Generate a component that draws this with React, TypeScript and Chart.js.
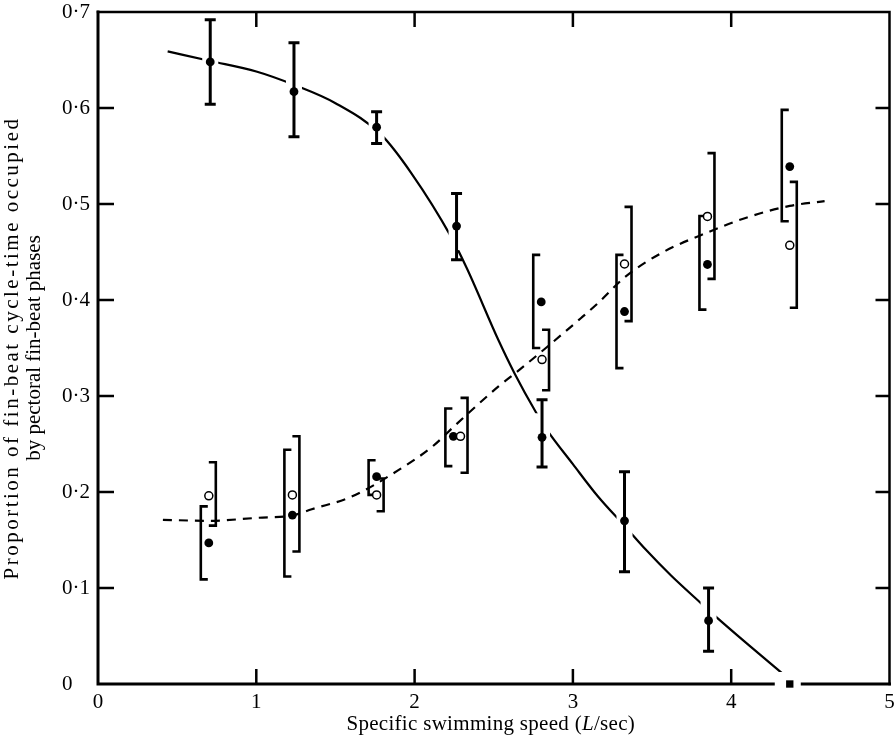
import React, { useEffect, useRef } from 'react';
import { Chart, registerables } from 'chart.js';

Chart.register(...registerables);

// ---------- axis ticks ----------
const xTicks = [0, 1, 2, 3, 4, 5];
const xTickLabels = ['0', '1', '2', '3', '4', '5'];
const yTicks = [0, 0.1, 0.2, 0.3, 0.4, 0.5, 0.6, 0.7];
const yTickLabels = ['0', '0·1', '0·2', '0·3', '0·4', '0·5', '0·6', '0·7'];

// ---------- descending series (solid curve, I-beam error bars) ----------
const descX = [0.709, 1.238, 1.76, 2.265, 2.805, 3.326, 3.857];
const descY = [0.648, 0.617, 0.58, 0.477, 0.257, 0.17, 0.066];
const descLow = [0.604, 0.57, 0.563, 0.442, 0.226, 0.117, 0.034];
const descHigh = [0.692, 0.668, 0.596, 0.511, 0.296, 0.221, 0.1];
const endX = [4.37];
const endY = [0];

// ---------- rising series, filled circles ("[" brackets) ----------
const riseFillX = [0.7, 1.228, 1.76, 2.245, 2.8, 3.326, 3.85, 4.37];
const riseFillY = [0.147, 0.176, 0.216, 0.258, 0.398, 0.388, 0.437, 0.539];
const riseFillLow = [0.109, 0.112, 0.197, 0.227, 0.35, 0.329, 0.39, 0.482];
const riseFillHigh = [0.185, 0.244, 0.233, 0.287, 0.447, 0.447, 0.4875, 0.598];

// ---------- rising series, open circles ("]" brackets) ----------
const riseOpenX = [0.7, 1.228, 1.76, 2.29, 2.805, 3.326, 3.85, 4.37];
const riseOpenY = [0.196, 0.197, 0.197, 0.258, 0.338, 0.4375, 0.487, 0.457];
const riseOpenLow = [0.165, 0.138, 0.18, 0.22, 0.306, 0.378, 0.422, 0.392];
const riseOpenHigh = [0.231, 0.258, 0.214, 0.298, 0.369, 0.497, 0.553, 0.523];

// ---------- fitted curves ----------
const solidCurveX = [0.44, 0.71, 1.0, 1.24, 1.5, 1.79, 1.98, 2.23, 2.33, 2.53, 2.63, 2.77, 2.83, 3.0, 3.16, 3.33, 3.46, 3.62, 3.81, 3.89, 4.1, 4.33];
const solidCurveY = [0.659, 0.649, 0.638, 0.624, 0.605, 0.572, 0.532, 0.466, 0.433, 0.358, 0.324, 0.282, 0.266, 0.229, 0.195, 0.164, 0.14, 0.113, 0.084, 0.072, 0.042, 0.01];
const dashCurveX = [0.41, 0.7, 1.0, 1.24, 1.35, 1.6, 1.9, 2.11, 2.26, 2.53, 2.63, 2.8, 3.05, 3.16, 3.33, 3.56, 3.86, 4.1, 4.37, 4.59];
const dashCurveY = [0.171, 0.17, 0.173, 0.176, 0.182, 0.195, 0.223, 0.247, 0.27, 0.31, 0.323, 0.346, 0.381, 0.397, 0.424, 0.449, 0.471, 0.486, 0.498, 0.503];

const xTitleParts: [string, boolean][] = [['Specific swimming speed (', false], ['L', true], ['/sec)', false]];
const yTitleLines = ['Proportion of fin-beat cycle-time occupied', 'by pectoral fin-beat phases'];

const FONT = '"Liberation Serif", "Times New Roman", serif';

const zip = (xs: number[], ys: number[]) => xs.map((x, i) => ({ x, y: ys[i] }));

const figurePlugin = {
  id: 'figure',
  beforeDatasetsDraw(chart: any) {
    const { ctx, chartArea } = chart;
    const { left, right, top, bottom } = chartArea;
    const xs = chart.scales.x;
    const ys = chart.scales.y;
    ctx.save();
    ctx.strokeStyle = '#000';
    ctx.lineCap = 'square';
    // frame
    ctx.lineWidth = 3;
    ctx.beginPath();
    ctx.moveTo(left, top);
    ctx.lineTo(left, bottom);
    ctx.lineTo(right, bottom);
    ctx.stroke();
    ctx.lineWidth = 2.5;
    ctx.beginPath();
    ctx.moveTo(left, top);
    ctx.lineTo(right, top);
    ctx.lineTo(right, bottom);
    ctx.stroke();
    // inward ticks
    ctx.lineCap = 'butt';
    ctx.lineWidth = 2.5;
    xTicks.forEach((v) => {
      if (v === xTicks[0] || v === xTicks[xTicks.length - 1]) return;
      const px = xs.getPixelForValue(v);
      ctx.beginPath();
      ctx.moveTo(px, bottom);
      ctx.lineTo(px, bottom - 15);
      ctx.moveTo(px, top);
      ctx.lineTo(px, top + 15);
      ctx.stroke();
    });
    yTicks.forEach((v) => {
      if (v === yTicks[0] || v === yTicks[yTicks.length - 1]) return;
      const py = ys.getPixelForValue(v);
      ctx.beginPath();
      ctx.moveTo(left, py);
      ctx.lineTo(left + 16, py);
      ctx.moveTo(right, py);
      ctx.lineTo(right - 14, py);
      ctx.stroke();
    });
    ctx.restore();
  },
  afterDatasetDraw(chart: any, args: any) {
    const { ctx } = chart;
    const xs = chart.scales.x;
    const ys = chart.scales.y;
    if (args.index === 0) {
      // gaps in the solid curve around each error bar and around the end marker
      ctx.save();
      ctx.fillStyle = '#fff';
      descX.forEach((x, i) => {
        const px = xs.getPixelForValue(x);
        const py = ys.getPixelForValue(descY[i]);
        ctx.fillRect(px - 8, py - 24, 16, 48);
      });
      endX.forEach((x, i) => {
        const px = xs.getPixelForValue(x);
        const py = ys.getPixelForValue(endY[i]);
        ctx.fillRect(px - 15, py - 12, 26, 14);
      });
      ctx.restore();
    }
    if (args.index === 1) {
      ctx.save();
      ctx.strokeStyle = '#000';
      // I-beam error bars
      ctx.lineWidth = 3;
      descX.forEach((x, i) => {
        const px = xs.getPixelForValue(x);
        const pl = ys.getPixelForValue(descLow[i]);
        const ph = ys.getPixelForValue(descHigh[i]);
        ctx.beginPath();
        ctx.moveTo(px, ph);
        ctx.lineTo(px, pl);
        ctx.moveTo(px - 5.5, ph);
        ctx.lineTo(px + 5.5, ph);
        ctx.moveTo(px - 5.5, pl);
        ctx.lineTo(px + 5.5, pl);
        ctx.stroke();
      });
      // brackets
      ctx.lineWidth = 2.6;
      ctx.lineJoin = 'miter';
      riseFillX.forEach((x, i) => {
        const bx = xs.getPixelForValue(x) - 8;
        const pl = ys.getPixelForValue(riseFillLow[i]);
        const ph = ys.getPixelForValue(riseFillHigh[i]);
        ctx.beginPath();
        ctx.moveTo(bx + 7, ph);
        ctx.lineTo(bx, ph);
        ctx.lineTo(bx, pl);
        ctx.lineTo(bx + 7, pl);
        ctx.stroke();
      });
      riseOpenX.forEach((x, i) => {
        const bx = xs.getPixelForValue(x) + 7;
        const pl = ys.getPixelForValue(riseOpenLow[i]);
        const ph = ys.getPixelForValue(riseOpenHigh[i]);
        ctx.beginPath();
        ctx.moveTo(bx - 7, ph);
        ctx.lineTo(bx, ph);
        ctx.lineTo(bx, pl);
        ctx.lineTo(bx - 7, pl);
        ctx.stroke();
      });
      ctx.restore();
    }
  },
  afterDraw(chart: any) {
    const { ctx, chartArea } = chart;
    ctx.save();
    ctx.fillStyle = '#000';
    // x title with italic L
    const size = 21;
    const fonts = (it: boolean) => `${it ? 'italic ' : ''}${size}px ${FONT}`;
    (ctx as any).letterSpacing = '0.3px';
    let total = 0;
    const widths = xTitleParts.map(([t, it]) => {
      ctx.font = fonts(it);
      const w = ctx.measureText(t).width;
      total += w;
      return w;
    });
    let x0 = (chartArea.left + chartArea.right) / 2 - 3 - total / 2;
    ctx.textBaseline = 'alphabetic';
    ctx.textAlign = 'left';
    xTitleParts.forEach(([t, it], i) => {
      ctx.font = fonts(it);
      ctx.fillText(t, x0, 730);
      x0 += widths[i];
    });
    // y title, two rotated lines
    const cy = (chartArea.top + chartArea.bottom) / 2;
    ctx.font = fonts(false);
    ctx.textAlign = 'center';
    const baselines = [18, 40];
    const spacing = ['2.5px', '0px'];
    yTitleLines.forEach((line, i) => {
      ctx.save();
      (ctx as any).letterSpacing = spacing[i];
      ctx.translate(baselines[i], cy);
      ctx.rotate(-Math.PI / 2);
      ctx.fillText(line, 0, 0);
      ctx.restore();
    });
    ctx.restore();
  },
};

export default function App() {
  const ref = useRef<HTMLCanvasElement>(null);
  useEffect(() => {
    document.body.style.margin = '0';
    const canvas = ref.current!;
    const chart = new Chart(canvas, {
      type: 'line',
      data: {
        datasets: [
          {
            data: zip(solidCurveX, solidCurveY),
            borderColor: '#000',
            borderWidth: 2.2,
            pointRadius: 0,
            cubicInterpolationMode: 'monotone',
            fill: false,
            order: 5,
          },
          {
            data: zip(dashCurveX, dashCurveY),
            borderColor: '#000',
            borderWidth: 2.2,
            borderDash: [9, 7],
            pointRadius: 0,
            cubicInterpolationMode: 'monotone',
            fill: false,
            order: 4,
          },
          {
            data: zip(descX, descY),
            showLine: false,
            pointRadius: 4.4,
            pointBackgroundColor: '#000',
            pointBorderColor: '#000',
            pointBorderWidth: 0,
            order: 3,
          },
          {
            data: zip(riseFillX, riseFillY),
            showLine: false,
            pointRadius: 4.4,
            pointBackgroundColor: '#000',
            pointBorderColor: '#000',
            pointBorderWidth: 0,
            order: 2,
          },
          {
            data: zip(riseOpenX, riseOpenY),
            showLine: false,
            pointRadius: 4,
            pointBackgroundColor: '#fff',
            pointBorderColor: '#000',
            pointBorderWidth: 1.5,
            order: 1,
          },
          {
            data: zip(endX, endY),
            showLine: false,
            pointStyle: 'rect',
            pointRadius: 5.2,
            pointBackgroundColor: '#000',
            pointBorderColor: '#000',
            pointBorderWidth: 0,
            clip: false,
            order: 0,
          },
        ] as any,
      },
      options: {
        responsive: false,
        animation: false,
        events: [],
        layout: { padding: { left: 62, top: 12, right: 2, bottom: 0 } },
        plugins: { legend: { display: false }, tooltip: { enabled: false } },
        scales: {
          x: {
            type: 'linear',
            min: 0,
            max: 5,
            grid: { display: false, drawTicks: false },
            border: { display: false },
            afterBuildTicks: (s: any) => {
              s.ticks = xTicks.map((v) => ({ value: v }));
            },
            afterFit: (s: any) => {
              s.height = 64;
              s.paddingLeft = 0;
              s.paddingRight = 0;
            },
            ticks: {
              autoSkip: false,
              maxRotation: 0,
              padding: 6,
              color: '#000',
              font: { family: FONT, size: 21 },
              callback: (v: any) => xTickLabels[xTicks.indexOf(Math.round(Number(v)))] ?? '',
            },
          },
          y: {
            type: 'linear',
            min: 0,
            max: 0.7,
            grid: { display: false, drawTicks: false },
            border: { display: false },
            afterBuildTicks: (s: any) => {
              s.ticks = yTicks.map((v) => ({ value: v }));
            },
            afterFit: (s: any) => {
              s.width = 36;
              s.paddingTop = 0;
              s.paddingBottom = 0;
            },
            ticks: {
              autoSkip: false,
              crossAlign: 'far',
              padding: 0,
              color: '#000',
              font: { family: FONT, size: 21 },
              callback: (v: any) => yTickLabels[Math.round(Number(v) * 10)] ?? '',
            },
          },
        },
      },
      plugins: [figurePlugin],
    } as any);
    return () => chart.destroy();
  }, []);
  return (
    <div style={{ width: 895, height: 748 }}>
      <canvas ref={ref} width={895} height={748} style={{ display: 'block' }} />
    </div>
  );
}
